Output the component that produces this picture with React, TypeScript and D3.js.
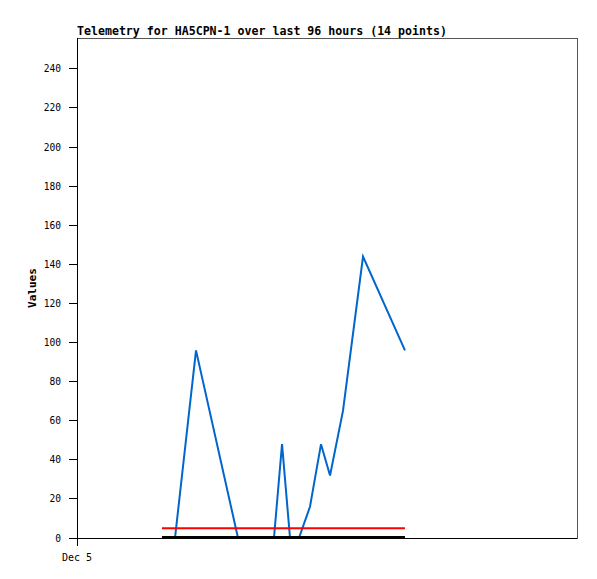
import React from "react";
import * as d3 from "d3";

const times = [
  "2023-12-05T16:19", "2023-12-05T18:49", "2023-12-05T22:51", "2023-12-06T06:55",
  "2023-12-06T13:49", "2023-12-06T15:22", "2023-12-06T16:54", "2023-12-06T18:37",
  "2023-12-06T20:44", "2023-12-06T22:51", "2023-12-07T00:35", "2023-12-07T03:04",
  "2023-12-07T06:55", "2023-12-07T14:58",
];
const values = [0, 0, 96, 0, 0, 48, 0, 0, 16, 48, 32, 65, 144, 96];
const redLevel = [5, 5];
const blackLevel = [0, 0];
const yTicks = [0, 20, 40, 60, 80, 100, 120, 140, 160, 180, 200, 220, 240];
const xStart = "2023-12-05T00:00";
const xEnd = "2023-12-09T00:00";
const title = "Telemetry for HA5CPN-1 over last 96 hours (14 points)";

export default function App() {
  const W = 597, H = 579;
  const left = 77, right = 577, top = 38, bottom = 538;
  const x = d3.scaleTime().domain([new Date(xStart), new Date(xEnd)]).range([left, right]);
  const y = d3.scaleLinear().domain([0, 255.8]).range([bottom, top]);
  const pts = times.map((t, i) => ({ t: new Date(t), v: values[i] }));
  const line = d3.line<{ t: Date; v: number }>().x(d => x(d.t)).y(d => y(d.v));
  const t0 = new Date(times[0]), t1 = new Date(times[times.length - 1]);
  const font = "'DejaVu Sans Mono', monospace";
  return (
    <svg width={W} height={H} style={{ position: "absolute", left: 0, top: 0 }}>
      <rect x={0} y={0} width={W} height={H} fill="#fff" />
      <text x={left} y={35} fontFamily={font} fontSize={11.6} fontWeight="bold" fill="#000">{title}</text>
      <rect x={left} y={top} width={right - left} height={bottom - top} fill="none" stroke="#555" strokeWidth={1} shapeRendering="crispEdges" />
      <path d={line(pts) || ""} fill="none" stroke="#0066cc" strokeWidth={2} />
      <line x1={x(t0)} x2={x(t1)} y1={y(redLevel[0])} y2={y(redLevel[1])} stroke="#ff0000" strokeWidth={2} />
      <line x1={x(t0)} x2={x(t1)} y1={y(blackLevel[0]) - 1} y2={y(blackLevel[1]) - 1} stroke="#000" strokeWidth={2} />
      <line x1={left} x2={right} y1={bottom} y2={bottom} stroke="#000" strokeWidth={1} shapeRendering="crispEdges" />
      <line x1={left} x2={left} y1={top} y2={bottom + 8} stroke="#000" strokeWidth={1} shapeRendering="crispEdges" />
      {yTicks.map(v => (
        <g key={v}>
          <line x1={left - 8} x2={left} y1={y(v)} y2={y(v)} stroke="#000" shapeRendering="crispEdges" />
          <text x={left - 16} y={y(v) + 3.5} textAnchor="end" fontFamily={font} fontSize={9.6} fill="#000">{v}</text>
        </g>
      ))}
      <text x={left} y={561} textAnchor="middle" fontFamily={font} fontSize={10} fill="#000">Dec 5</text>
      <text transform={`translate(36,${(top + bottom) / 2}) rotate(-90)`} textAnchor="middle" fontFamily={font} fontSize={11} fontWeight="bold" fill="#000">Values</text>
    </svg>
  );
}
